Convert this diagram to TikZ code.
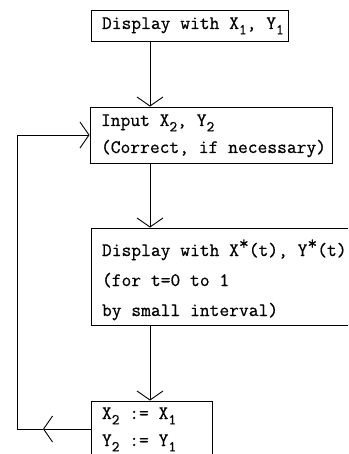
\documentclass[tikz,border=0pt]{standalone}
\usepackage{fontspec}
\usetikzlibrary{arrows.meta}
\newfontfamily\typefont[FakeBold=0.6]{Latin Modern Mono}
% lowered index and raised star in typewriter text
\newcommand{\lowidx}[1]{\raisebox{-0.28em}{\fontsize{15bp}{15bp}\selectfont #1}}
\newcommand{\upstar}{\raisebox{0.35em}{*}}
\tikzset{
  box/.style={draw, rectangle, line width=0.9bp, inner xsep=11bp, inner ysep=0pt,
    align=flush left, font=\typefont\fontsize{19bp}{27bp}\selectfont},
  lines/.style={font=\typefont\fontsize{19bp}{#1}\selectfont},
  flow/.style={line width=0.9bp, -{Straight Barb[length=9bp,width=26bp]}}
}
\begin{document}
\begin{tikzpicture}[x=1bp,y=-1bp]
            \clip (0,0) rectangle (348,454);
            % Kaesten
            \node[box, text width=175bp, minimum height=31bp,
                  text height=19bp, text depth=12bp] (start) at (189.5,25.5)
                {\mbox{Display with X\lowidx{1}, Y\lowidx{1}}};
            \node[box, text width=220bp, minimum height=56bp,
                  text height=19bp, text depth=37bp] (input) at (211,135)
                {\mbox{Input X\lowidx{2}, Y\lowidx{2}}\\\mbox{(Correct, if necessary)}};
            \node[box, lines=30bp, text width=241bp, minimum height=97bp,
                  text height=28bp, text depth=69bp] (curve) at (222.5,276.5)
                {\mbox{Display with X\upstar(t), Y\upstar(t)}\\\mbox{(for t=0 to 1}\\\mbox{by small interval)}};
            \node[box, text width=99bp, minimum height=56bp,
                  text height=18bp, text depth=38bp] (assign) at (151.5,429)
                {\mbox{X\lowidx{2} := X\lowidx{1}}\\\mbox{Y\lowidx{2} := Y\lowidx{1}}};
            % Ablauf
            \coordinate (spine) at (150,0);
            \draw[flow] (start.south -| spine) -- (input.north -| spine);
            \draw[flow] (input.south -| spine) -- (curve.north -| spine);
            \draw[flow] (curve.south -| spine) -- (assign.north -| spine);
            % Schleife zurueck
            \coordinate (back) at (43,429);
            \coordinate (corner) at (17,429);
            \draw[flow] (assign.west) -- (back);
            \draw[flow] (back) -- (corner) |- (input.west);
\end{tikzpicture}
\end{document}
